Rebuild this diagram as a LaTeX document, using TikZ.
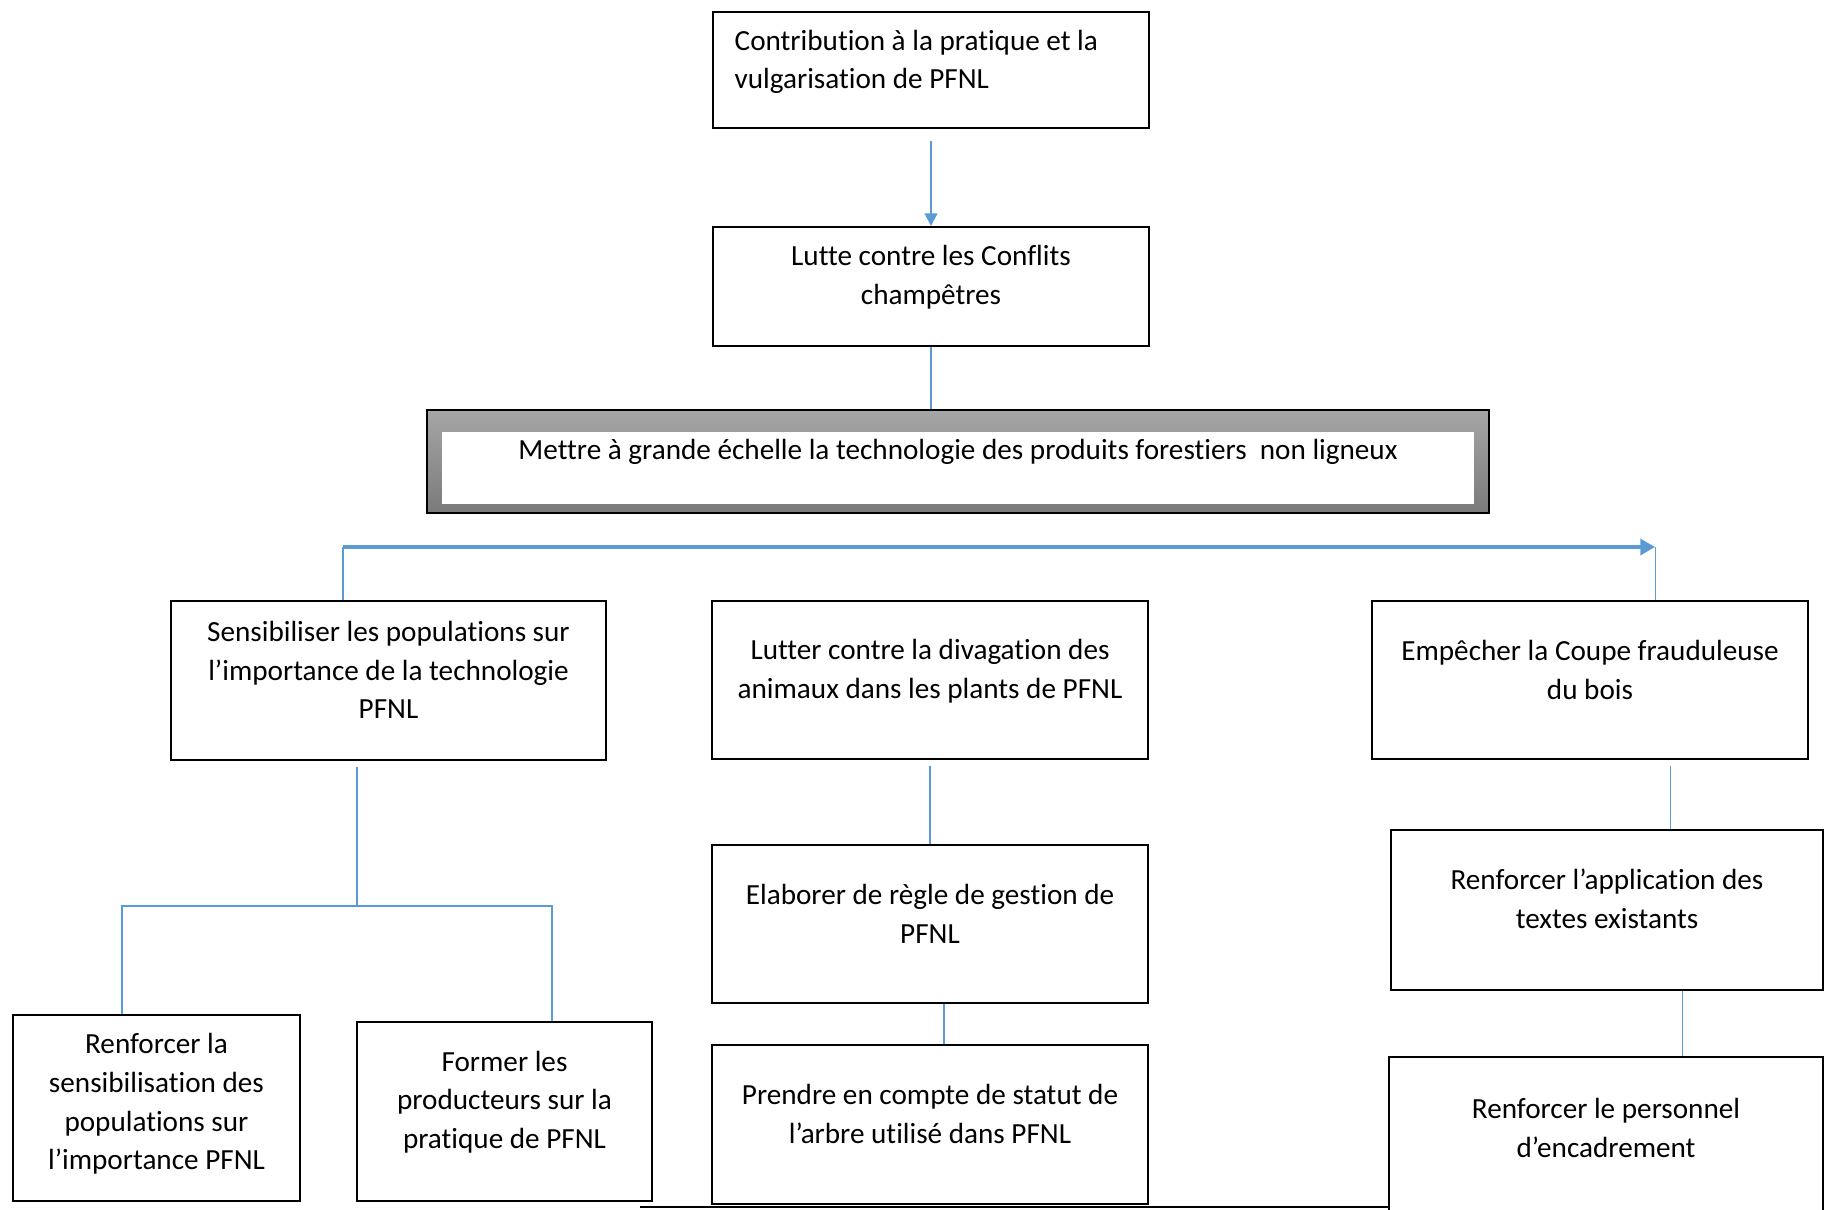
\documentclass[tikz,border=0pt]{standalone}
\usepackage{fontspec}
\setmainfont{Carlito}[Ligatures=NoCommon]
\usetikzlibrary{arrows.meta}
\definecolor{lnblue}{HTML}{5B9BD5}
\tikzset{
  blk/.style={draw, line width=0.55pt, minimum width=4.36cm, minimum height=1.59cm},
  txt/.style={align=center, inner sep=0pt},
  con/.style={draw=lnblue, line width=0.3pt},
  tip/.style={-{Triangle[width=3.6pt, length=3.6pt]}}
}

\begin{document}
\begin{tikzpicture}[x=0.01cm, y=-0.01cm, font=\fontsize{8.3}{11}\selectfont]
  \useasboundingbox (0,0) rectangle (1825,1209);
  % top
  \node[blk, minimum height=1.16cm] (contrib) at (931,70) {};
  \node[txt, align=left, anchor=west] (contrib-t) at (734,62) {Contribution à la pratique et la\\vulgarisation de PFNL};
  \node[blk, minimum height=1.19cm] (lutte) at (931,286.5) {};
  \node[txt] (lutte-t) at (931,277) {Lutte contre les Conflits\\champêtres};
  \draw[con, line width=0.6pt, tip, shorten <=0.12cm] (contrib) -- (lutte);
  % grey banner
  \node[draw, line width=0.5pt, top color=black!35, bottom color=black!52,
        minimum width=10.62cm, minimum height=1.03cm] (echelle) at (958,461.5) {};
  \node[fill=white, minimum width=10.32cm, minimum height=0.72cm] (echelle-in) at (958,468) {};
  \node[txt] (echelle-t) at (958,452) {Mettre à grande échelle la technologie des produits forestiers\ \ non ligneux};
  \draw[con] (lutte.south) -- (lutte.south |- echelle.north);
  % second row
  \node[blk, minimum width=4.35cm] (sens) at (388.5,680.5) {};
  \node[txt] (sens-t) at (388.5,670) {Sensibiliser les populations sur\\l’importance de la technologie\\PFNL};
  \node[blk, minimum height=1.58cm] (div) at (930,680) {};
  \node[txt] (div-t) at (930,671) {Lutter contre la divagation des\\animaux dans les plants de PFNL};
  \node[blk, minimum height=1.58cm] (coupe) at (1590,680) {};
  \node[txt] (coupe-t) at (1590,670) {Empêcher la Coupe frauduleuse\\du bois};
  \coordinate (bl) at (343,547);
  \coordinate (br) at (1655,547);
  \draw[con] (bl |- sens.north) -- (bl);
  \draw[con, line width=0.9pt, -{Triangle[width=4.6pt, length=4.2pt]}] (bl) -- (br);
  \draw[con] (br) -- (br |- coupe.north);
  % left branch
  \node[blk, minimum width=2.87cm, minimum height=1.86cm] (renf) at (156.5,1108) {};
  \node[txt] (renf-t) at (156.5,1104) {Renforcer la\\sensibilisation des\\populations sur\\l’importance PFNL};
  \node[blk, minimum width=2.95cm, minimum height=1.79cm] (form) at (504.5,1111.5) {};
  \node[txt] (form-t) at (504.5,1102) {Former les\\producteurs sur la\\pratique de PFNL};
  \coordinate (lj) at (357,906);
  \coordinate (la) at (122,906);
  \coordinate (lb) at (552,906);
  \draw[con, shorten <=0.06cm] (lj |- sens.south) -- (lj);
  \draw[con] (la |- renf.north) -- (la) -- (lb) -- (lb |- form.north);
  % middle branch
  \node[blk, minimum height=1.58cm] (regle) at (930,924) {};
  \node[txt] (regle-t) at (930,914) {Elaborer de règle de gestion de\\PFNL};
  \node[blk] (statut) at (930,1124.5) {};
  \node[txt] (statut-t) at (930,1114) {Prendre en compte de statut de\\l’arbre utilisé dans PFNL};
  \draw[con, shorten <=0.06cm] (div) -- (regle);
  \draw[con] ([xshift=0.14cm]regle.south) -- ([xshift=0.14cm]statut.north);
  % right branch
  \node[blk, minimum width=4.32cm, minimum height=1.6cm] (appl) at (1607,910) {};
  \node[txt] (appl-t) at (1607,899) {Renforcer l’application des\\textes existants};
  \node[blk, minimum width=4.34cm, minimum height=1.62cm] (pers) at (1606,1138) {};
  \node[txt] (pers-t) at (1606,1128) {Renforcer le personnel\\d’encadrement};
  \draw[con, shorten <=0.06cm] ([xshift=0.8cm]coupe.south) -- ([xshift=0.8cm]coupe.south |- appl.north);
  \draw[con] ([xshift=0.75cm]appl.south) -- ([xshift=0.75cm]appl.south |- pers.north);
  % bottom rule
  \draw[line width=0.7pt] (640,1207) -- (pers.west |- 640,1207);
\end{tikzpicture}
\end{document}
